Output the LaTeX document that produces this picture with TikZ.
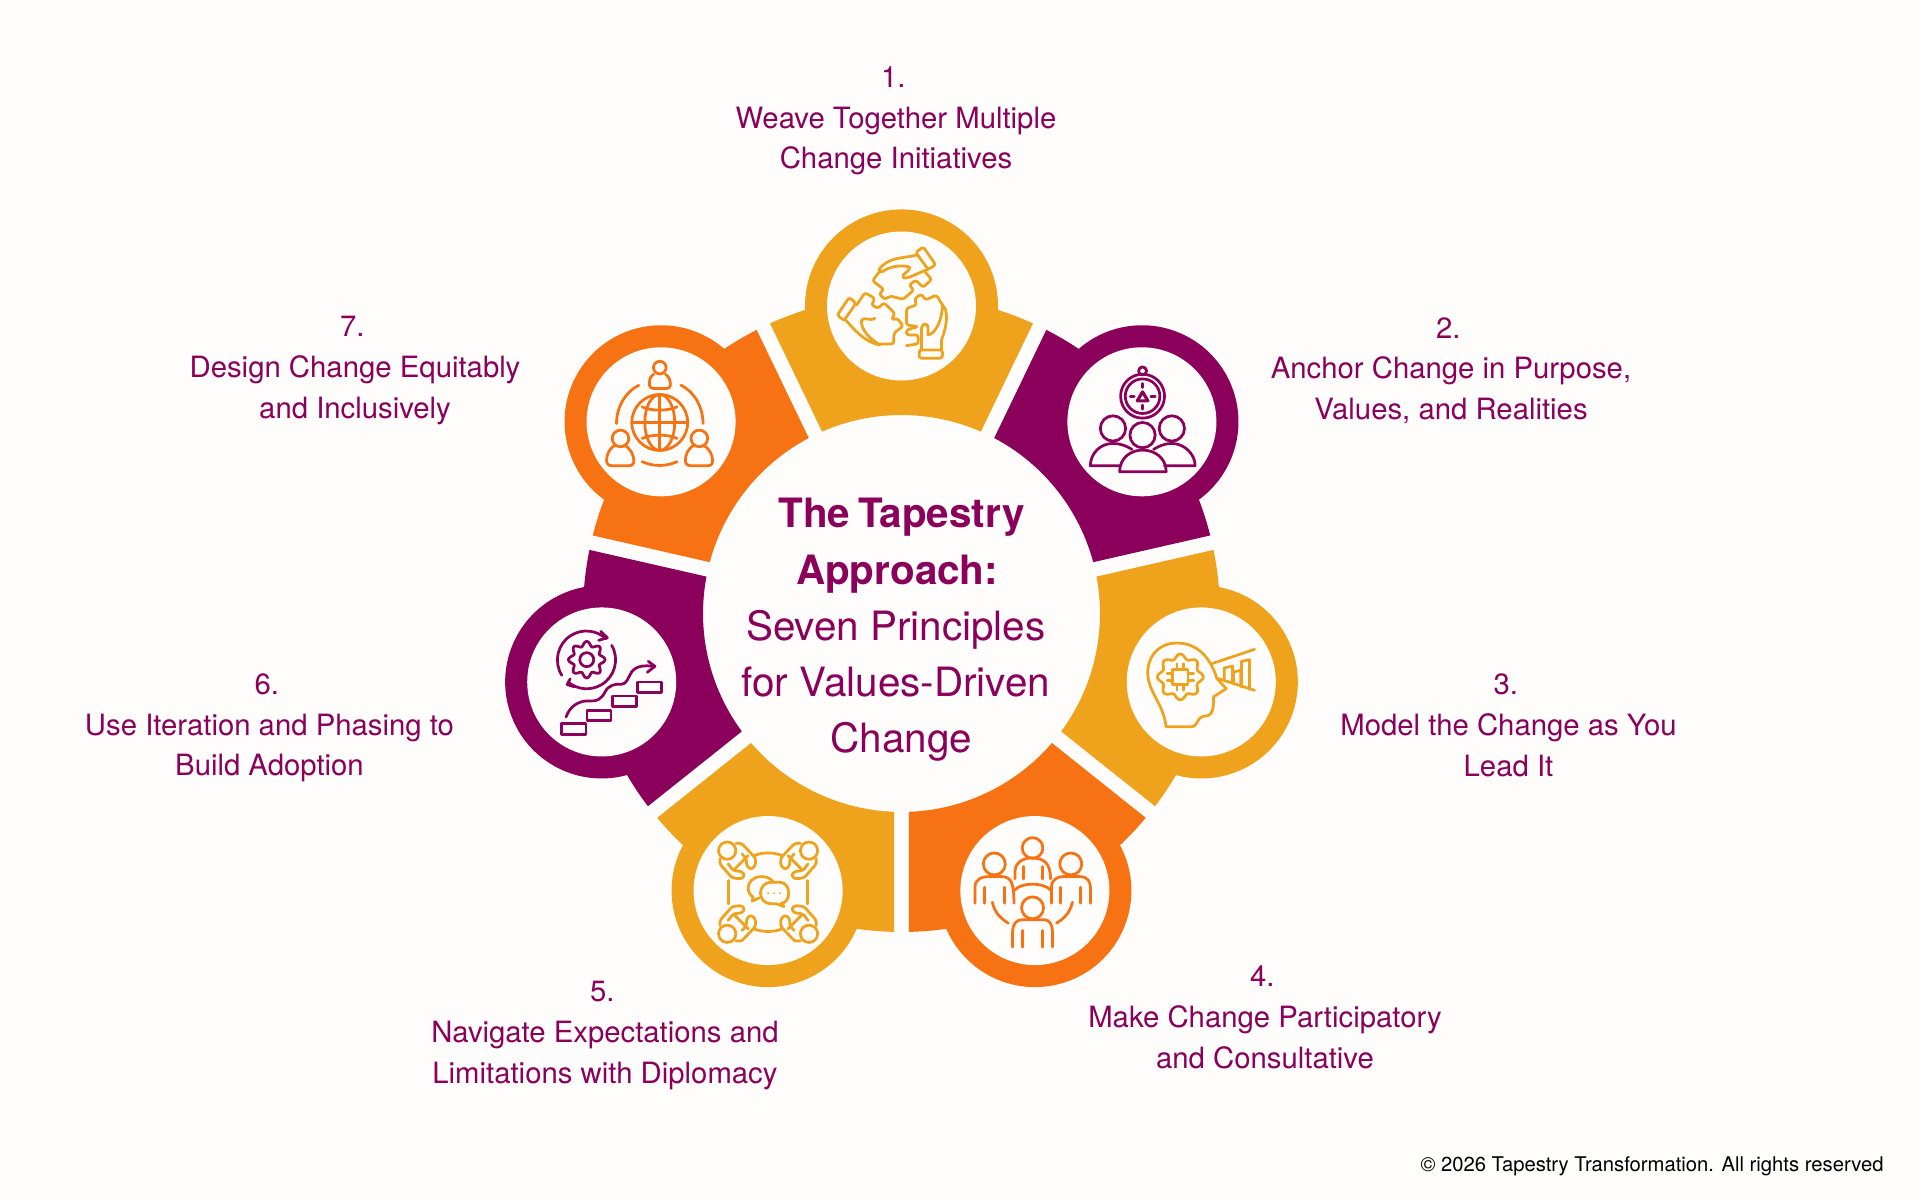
\documentclass[tikz,border=0pt]{standalone}
\usepackage{fontspec}
\setmainfont{TeX Gyre Heros}
\usepackage{xcolor}
\usetikzlibrary{calc}
\definecolor{tapgold}{HTML}{EFA21C}
\definecolor{tapplum}{HTML}{8A005A}
\definecolor{taporange}{HTML}{F77212}
\definecolor{tappaper}{HTML}{FEFDFC}
\begin{document}
\begin{tikzpicture}[
      petal/.pic={\fill (66.42:1.985) arc[start angle=66.42,end angle=113.58,radius=1.985]
        -- (114.38:3.185) arc[start angle=114.38,end angle=107.62,radius=3.185]
        arc[start angle=182.4,end angle=-2.4,radius=0.965]
        arc[start angle=72.38,end angle=65.62,radius=3.185] -- cycle;},
      bulb/.style={circle, fill=tappaper, minimum size=1.49cm, inner sep=0pt},
      lab/.style={align=center, text=tapplum, font=\fontsize{8.34}{11.6}\selectfont},
      hubtext/.style={align=center, text=tapplum, font=\fontsize{11.5}{16}\selectfont},
      note/.style={anchor=east, text=black, font=\fontsize{5.76}{7}\selectfont},
      icon/.style={line width=0.78pt, line cap=round, line join=round},
      soft/.style={rounded corners=0.7pt},
      gridpx/.style={x=0.0033333cm, y=-0.0033333cm}]
    \path[use as bounding box, fill=tappaper] (-9.015,-5.865) rectangle (10.185,6.135);
    \pic[fill=tapgold] {petal};
    \pic[fill=tapplum, rotate=-51.43] {petal};
    \pic[fill=tapgold, rotate=-102.86] {petal};
    \pic[fill=taporange, rotate=-154.29] {petal};
    \pic[fill=tapgold, rotate=-205.71] {petal};
    \pic[fill=tapplum, rotate=-257.14] {petal};
    \pic[fill=taporange, rotate=-308.57] {petal};
    \node[bulb] (c1) at (90:3.075) {};
    \node[bulb] (c2) at (38.57:3.075) {};
    \node[bulb] (c3) at (-12.86:3.075) {};
    \node[bulb] (c4) at (-64.29:3.075) {};
    \node[bulb] (c5) at (-115.71:3.075) {};
    \node[bulb] (c6) at (-167.14:3.075) {};
    \node[bulb] (c7) at (141.43:3.075) {};
    \node[hubtext] (hub) at (0,-0.165) {\textbf{The\kern-1pt{} Tapestry}\\\textbf{Approach:}\rule{2.5pt}{0pt}\\Seven Principles\rule{3.2pt}{0pt}\\for Values-Driven\rule{3.2pt}{0pt}\\Change};
    \node[lab] (l1) at (-0.055,4.927) {1.\rule{1.5pt}{0pt}\\Weave Together Multiple\\Change Initiatives};
    \node[lab] (l2) at (5.495,2.429) {2.\rule{1.5pt}{0pt}\\Anchor Change in Purpose,\\Values, and Realities};
    \node[lab] (l3) at (6.07,-1.12) {3.\rule{1.5pt}{0pt}\\Model the Change as You\\Lead It};
    \node[lab] (l4) at (3.635,-4.04) {4.\rule{1.5pt}{0pt}\\Make Change Participatory\\and Consultative};
    \node[lab] (l5) at (-2.965,-4.222) {5.\rule{1.5pt}{0pt}\\Navigate Expectations and\\Limitations with Diplomacy};
    \node[lab] (l6) at (-6.32,-1.145) {6.\rule{1.5pt}{0pt}\\Use Iteration and Phasing to\\Build Adoption};
    \node[lab] (l7) at (-5.465,2.429) {7.\rule{1.5pt}{0pt}\\Design Change Equitably\\and Inclusively};
    \node[note] (rights) at (9.945,-5.525) {© 2026 Tapestry Transformation. All rights reserved};
    % puzzle hands
    \begin{scope}[shift={(c1)}, gridpx, shift={(-425,-348)}, icon, tapgold]
      \draw[soft] (468,187)--(490,170)--(528,224)--(505,238)--cycle;
      \draw (470,195) .. controls (430,205) and (385,200) .. (358,238) .. controls (355,245) and (365,250) .. (375,240) .. controls (400,225) and (440,225) .. (450,232) .. controls (445,250) and (425,250) .. (430,262) .. controls (440,270) and (470,250) .. (505,238);
      \draw[soft] (362,240)--(338,272)--(372,298)--(358,312)--(375,328)--(392,318)--(430,328)--(462,300)--(448,285)--(468,270)--(490,292)--(516,268)--(497,247);
      \draw[soft] (232,375)--(268,322)--(288,340)--(252,392)--cycle;
      \draw (255,388) .. controls (280,415) and (310,455) .. (360,465) .. controls (335,450) and (300,420) .. (305,390) .. controls (315,380) and (335,395) .. (345,385);
      \draw[soft] (290,345)--(315,308)--(345,325)--(335,345)--(355,355)--(372,338)--(405,370)--(395,390)--(412,385)--(430,408)--(402,430)--(402,462)--(360,462);
      \draw[soft] (478,480)--(548,480)--(548,505)--(478,505)--cycle;
      \draw (485,478) -- (485,415) .. controls (490,395) and (505,400) .. (505,415) -- (505,435) .. controls (530,430) and (548,385) .. (548,345) .. controls (565,360) and (565,400) .. (545,450) -- (545,478);
      \draw[soft] (440,467)--(475,462)--(475,435)--(440,435)--(440,420)--(475,410)--(440,405)--(440,355)--(470,345)--(465,325)--(485,312)--(497,330)--(530,315)--(548,345);
    \end{scope}
    % compass and people
    \begin{scope}[shift={(c2)}, gridpx, shift={(-1145,-695)}, icon, tapplum]
      \draw (1147,542) circle[radius=12];
      \draw (1147,618) circle[radius=66];
      \draw (1147,618) circle[radius=52];
      \draw (1147,580)--(1147,592) (1147,645)--(1147,657) (1110,618)--(1122,618) (1172,618)--(1185,618);
      \draw[line width=0.9pt] (1147,605)--(1131,632)--(1163,632)--cycle;
      \draw (1058,715) circle[radius=38];
      \draw (1235,715) circle[radius=38];
      \draw (1147,735) circle[radius=38];
      \draw (1080,827)--(990,827) .. controls (990,790) and (1020,760) .. (1058,760) .. controls (1080,760) and (1100,768) .. (1115,778);
      \draw (1213,827)--(1305,827) .. controls (1305,790) and (1270,760) .. (1235,760) .. controls (1215,760) and (1195,768) .. (1180,778);
      \draw (1078,845)--(1218,845) .. controls (1218,805) and (1185,780) .. (1147,780) .. controls (1110,780) and (1078,805) .. (1078,845) -- cycle;
    \end{scope}
    % head with chip
    \begin{scope}[shift={(c3)}, gridpx, shift={(-603,-545)}, icon, tapgold]
      \draw (497,680) -- (575,680) .. controls (592,680) and (590,650) .. (610,648) .. controls (640,650) and (640,620) .. (640,590) -- (678,565) -- (650,535) .. controls (630,470) and (590,428) .. (530,428) .. controls (470,428) and (440,475) .. (442,520) .. controls (445,580) and (490,610) .. (497,680);
      \draw plot[domain=0:360, samples=97, smooth] ({540+(62+7*cos(8*\x))*cos(\x)},{530+(62+7*cos(8*\x))*sin(\x)});
      \draw (517,507) rectangle (563,553);
      \draw (530,490)--(530,507) (550,490)--(550,507) (530,553)--(530,570) (550,553)--(550,570);
      \draw (500,520)--(517,520) (500,540)--(517,540) (563,520)--(580,520) (563,540)--(580,540);
      \draw (635,490)--(763,447) (655,535)--(763,570);
      \draw (672,540)--(672,503)--(697,497)--(697,548);
      \draw (700,550)--(700,515)--(722,510)--(722,558);
      \draw (724,560)--(724,483)--(748,478)--(748,567);
    \end{scope}
    % four people at a table
    \begin{scope}[shift={(c4)}, gridpx, shift={(-465,-420)}, icon, taporange]
      \draw (458,292) circle[radius=31];
      \draw (405,385) -- (405,365) .. controls (405,335) and (430,322) .. (455,322) .. controls (490,322) and (512,335) .. (512,385);
      \draw (430,348)--(430,385) (487,348)--(487,385);
      \draw (343,340) circle[radius=33];
      \draw (285,458) -- (285,410) .. controls (285,385) and (305,378) .. (330,378) -- (365,378) .. controls (395,378) and (402,400) .. (402,458);
      \draw (313,410)--(313,458) (373,410)--(373,458);
      \draw (573,340) circle[radius=33];
      \draw (515,458) -- (515,410) .. controls (515,385) and (535,378) .. (550,378) -- (600,378) .. controls (625,378) and (632,395) .. (632,410) -- (632,458);
      \draw (543,410)--(543,458) (603,410)--(603,458);
      \draw (458,472) circle[radius=33];
      \draw (398,590) -- (398,545) .. controls (398,520) and (410,508) .. (425,508) -- (495,508) .. controls (510,508) and (518,525) .. (518,545) -- (518,590);
      \draw (428,540)--(428,590) (488,540)--(488,590);
      \draw (405,418) .. controls (425,395) and (490,395) .. (512,418);
      \draw (337,455) .. controls (345,490) and (365,505) .. (385,518);
      \draw (578,455) .. controls (570,490) and (550,505) .. (530,518);
    \end{scope}
    % circle of people talking
    \begin{scope}[shift={(c5)}, gridpx, shift={(-385,-330)}, icon, tapgold]
      \foreach \sx/\sy in {1/1,-1/1,1/-1,-1/-1} {
        \begin{scope}[shift={(385,335)}, xscale=\sx, yscale=\sy]
          \draw (-123,-125) circle[radius=26];
          \draw[soft] (-97,-147)--(-80,-147)--(-38,-103)--(-38,-80)--(-52,-68)--(-65,-80)--(-65,-100)--(-78,-115);
          \draw[soft] (-145,-100)--(-145,-85)--(-108,-43)--(-80,-40)--(-70,-50)--(-78,-62)--(-105,-65)--(-120,-85);
          \draw (-100,-70)--(-60,-110);
          \draw (-42,-110) .. controls (-28,-116) and (-14,-118) .. (0,-118);
          \draw (-118,-35) .. controls (-118,-22) and (-118,-12) .. (-118,0);
        \end{scope}
      }
      \draw (402,305) .. controls (390,290) and (375,288) .. (365,288) .. controls (340,288) and (325,305) .. (325,322) .. controls (325,335) and (332,345) .. (340,350) -- (337,362) -- (358,352);
      \draw (393,305) -- (420,305) .. controls (437,305) and (447,320) .. (447,338) .. controls (447,355) and (437,368) .. (425,368) -- (433,378) -- (410,370) -- (395,370) .. controls (375,370) and (362,355) .. (362,338) .. controls (362,320) and (375,305) .. (393,305) -- cycle;
      \fill (385,338) circle[radius=3] (403,338) circle[radius=3] (421,338) circle[radius=3];
    \end{scope}
    % gear and steps
    \begin{scope}[shift={(c6)}, gridpx, shift={(-335,-455)}, icon, tapplum]
      \draw plot[domain=0:360, samples=97, smooth] ({290+(48+7*cos(8*\x))*cos(\x)},{388+(48+7*cos(8*\x))*sin(\x)});
      \draw (290,388) circle[radius=21];
      \draw (215,435) arc[start angle=148,end angle=313,radius=87];
      \draw (332,303)--(352,322)--(326,330);
      \draw (365,345) arc[start angle=-30,end angle=130,radius=87];
      \draw (240,446)--(231,463)--(254,470);
      \draw (215,580) rectangle (288,612);
      \draw (291,540) rectangle (363,571);
      \draw (367,497) rectangle (439,528);
      \draw (442,455) rectangle (515,487);
      \draw (228,560) .. controls (240,525) and (270,510) .. (300,512) .. controls (320,515) and (335,505) .. (345,485) .. controls (355,465) and (375,460) .. (395,462) .. controls (410,462) and (415,440) .. (425,425) .. controls (440,405) and (465,405) .. (492,408);
      \draw (475,393)--(495,408)--(472,426);
    \end{scope}
    % globe and people
    \begin{scope}[shift={(c7)}, gridpx, shift={(-332,-335)}, icon, taporange]
      \draw (328,337) circle[radius=84];
      \draw (328,337) ellipse[x radius=45,y radius=84];
      \draw (328,253)--(328,421) (244,337)--(412,337);
      \draw (275,290) .. controls (300,303) and (355,303) .. (380,290);
      \draw (275,385) .. controls (300,372) and (355,372) .. (380,385);
      \draw (328,172) circle[radius=19];
      \draw (310,192) .. controls (295,200) and (297,215) .. (297,225) .. controls (297,232) and (303,235) .. (310,235) -- (345,235) .. controls (355,235) and (360,232) .. (360,222) .. controls (360,210) and (355,198) .. (345,192);
      \draw (210,385) circle[radius=25];
      \draw (195,405) .. controls (175,415) and (168,435) .. (168,452) .. controls (168,462) and (175,467) .. (185,467) -- (235,467) .. controls (245,467) and (250,462) .. (250,452) .. controls (250,435) and (240,415) .. (222,405);
      \draw (447,385) circle[radius=25];
      \draw (432,405) .. controls (412,415) and (405,435) .. (405,452) .. controls (405,462) and (412,467) .. (422,467) -- (472,467) .. controls (482,467) and (487,462) .. (487,452) .. controls (487,435) and (477,415) .. (459,405);
      \draw (265,225) .. controls (225,245) and (198,290) .. (198,340);
      \draw (392,225) .. controls (432,245) and (458,290) .. (458,340);
      \draw (275,455) .. controls (310,470) and (345,470) .. (380,455);
    \end{scope}
  \end{tikzpicture}
\end{document}
